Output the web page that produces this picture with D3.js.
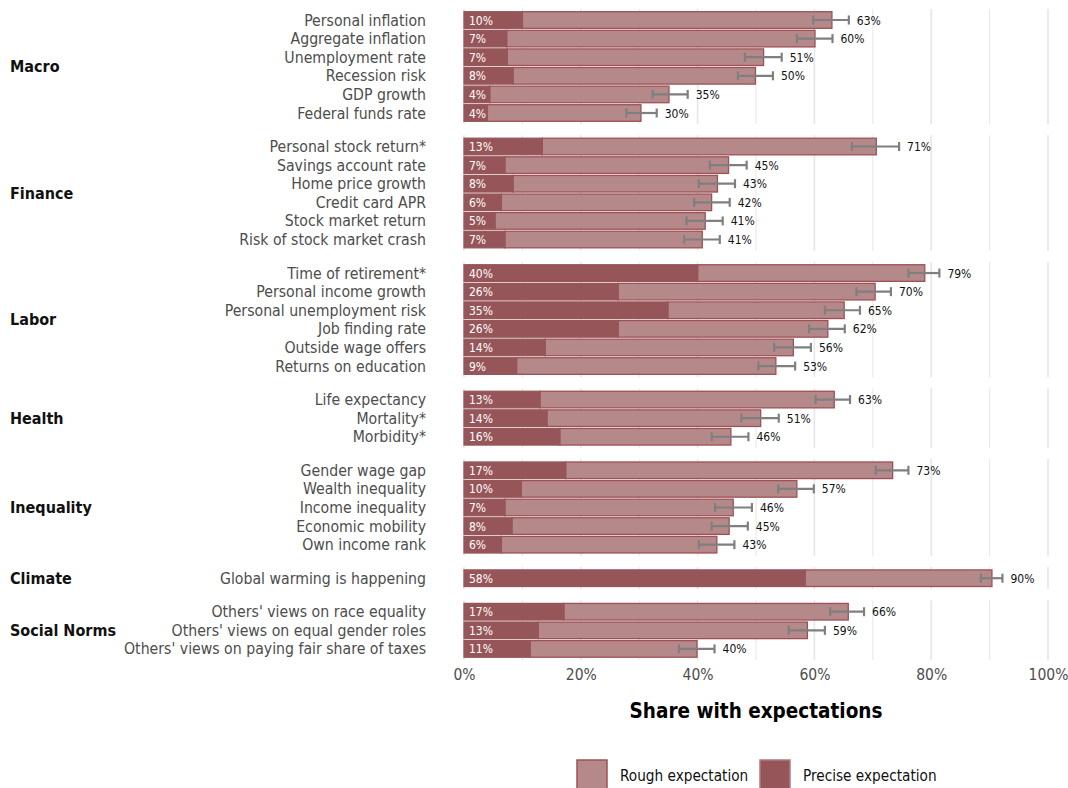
<!DOCTYPE html>
<html>
<head>
<meta charset="utf-8">
<script src="https://cdn.jsdelivr.net/npm/d3@7"></script>
<style>
  html, body { margin: 0; padding: 0; background: #ffffff; }
  svg { display: block; }
  text { font-family: "Liberation Sans Narrow", "DejaVu Sans Condensed", "Open Sans", sans-serif; }
</style>
</head>
<body>
<svg id="chart" width="1068" height="788"></svg>
<script>
// ---------------- DATA ----------------
const groups = ["Macro", "Finance", "Labor", "Health", "Inequality", "Climate", "Social Norms"];

const items = [
  "Personal inflation", "Aggregate inflation", "Unemployment rate", "Recession risk", "GDP growth", "Federal funds rate",
  "Personal stock return*", "Savings account rate", "Home price growth", "Credit card APR", "Stock market return", "Risk of stock market crash",
  "Time of retirement*", "Personal income growth", "Personal unemployment risk", "Job finding rate", "Outside wage offers", "Returns on education",
  "Life expectancy", "Mortality*", "Morbidity*",
  "Gender wage gap", "Wealth inequality", "Income inequality", "Economic mobility", "Own income rank",
  "Global warming is happening",
  "Others' views on race equality", "Others' views on equal gender roles", "Others' views on paying fair share of taxes"
];

const itemGroup = [
  "Macro", "Macro", "Macro", "Macro", "Macro", "Macro",
  "Finance", "Finance", "Finance", "Finance", "Finance", "Finance",
  "Labor", "Labor", "Labor", "Labor", "Labor", "Labor",
  "Health", "Health", "Health",
  "Inequality", "Inequality", "Inequality", "Inequality", "Inequality",
  "Climate",
  "Social Norms", "Social Norms", "Social Norms"
];

// share with precise expectations (%)
const precise = [
  10, 7.3, 7.4, 8.4, 4.4, 4,
  13.4, 7, 8.4, 6.4, 5.3, 7,
  40, 26.4, 34.9, 26.4, 13.9, 9,
  13, 14.2, 16.4,
  17.4, 9.8, 7, 8.2, 6.4,
  58.4,
  17.1, 12.7, 11.3
];

// share with any (rough + precise) expectations (%)
const total = [
  63, 60.1, 51.3, 49.9, 35.1, 30.3,
  70.6, 45.3, 43.4, 42.4, 41.3, 40.8,
  78.9, 70.4, 65.1, 62.3, 56.4, 53.4,
  63.4, 50.8, 45.7,
  73.4, 57, 46.1, 45.4, 43.3,
  90.4,
  65.8, 58.8, 39.9
];

// confidence interval bounds (%)
const ciLow = [
  59.8, 57.0, 48.1, 46.9, 32.3, 27.8,
  66.4, 42.1, 40.2, 39.4, 38.1, 37.7,
  76.1, 67.2, 61.8, 59.1, 53.1, 50.4,
  60.2, 47.5, 42.4,
  70.5, 53.8, 43.0, 42.4, 40.2,
  88.5,
  62.7, 55.6, 36.8
];
const ciHigh = [
  65.9, 63.1, 54.4, 52.9, 38.3, 33.0,
  74.5, 48.4, 46.4, 45.5, 44.3, 43.8,
  81.4, 73.1, 67.8, 65.2, 59.4, 56.7,
  66.1, 53.9, 48.7,
  76.1, 59.9, 49.3, 48.6, 46.3,
  92.2,
  68.5, 61.8, 42.9
];

const xTicks = [0, 20, 40, 60, 80, 100];
const xMinor = [10, 30, 50, 70, 90];
const legendLabels = ["Rough expectation", "Precise expectation"];
const axisTitle = "Share with expectations";

// ---------------- STYLE ----------------
const colPrecise = "#965659";
const colRough = "#b5898a";
const colStroke = "#9d5157";
const colErr = "#7f7f7f";
const colGrid = "#e6e6e6";

const svg = d3.select("#chart");

const x = d3.scaleLinear().domain([0, 100]).range([464, 1048]);

const rowStep = 18.6;
const panelGap = 11.2;
const firstTop = 20 - 0.6 * rowStep;

const rows = items.map((name, i) => ({
  name, group: itemGroup[i], precise: precise[i], total: total[i], lo: ciLow[i], hi: ciHigh[i]
}));

let curTop = firstTop;
const panels = groups.map(g => {
  const grpRows = rows.filter(r => r.group === g);
  const h = (grpRows.length - 1 + 1.2) * rowStep;
  const y = d3.scalePoint().domain(grpRows.map(r => r.name)).range([curTop, curTop + h]).padding(0.6);
  const p = { group: g, rows: grpRows, top: curTop, bottom: curTop + h, y };
  curTop += h + panelGap;
  return p;
});

const barH = 16.6;

panels.forEach(p => {
  const gP = svg.append("g");
  // grid
  gP.selectAll("line.minor").data(xMinor).join("line")
    .attr("x1", d => x(d)).attr("x2", d => x(d))
    .attr("y1", p.top).attr("y2", p.bottom)
    .attr("stroke", colGrid).attr("stroke-width", 1);
  gP.selectAll("line.major").data(xTicks).join("line")
    .attr("x1", d => x(d)).attr("x2", d => x(d))
    .attr("y1", p.top).attr("y2", p.bottom)
    .attr("stroke", colGrid).attr("stroke-width", 1.6);

  // group label
  gP.append("text")
    .attr("x", 10).attr("y", (p.top + p.bottom) / 2)
    .attr("dominant-baseline", "central")
    .attr("font-size", 16).attr("font-weight", "bold").attr("fill", "#111")
    .text(p.group);

  // item labels
  gP.selectAll("text.item").data(p.rows).join("text")
    .attr("x", 426).attr("y", d => p.y(d.name))
    .attr("text-anchor", "end").attr("dominant-baseline", "central")
    .attr("font-size", 15.7).attr("fill", "#4d4d4d")
    .text(d => d.name);

  const rg = gP.selectAll("g.row").data(p.rows).join("g");
  // rough portion
  rg.append("rect")
    .attr("x", d => x(d.precise)).attr("width", d => x(d.total) - x(d.precise))
    .attr("y", d => p.y(d.name) - barH / 2).attr("height", barH)
    .attr("fill", colRough).attr("stroke", colStroke).attr("stroke-width", 1.3);
  // precise portion
  rg.append("rect")
    .attr("x", x(0)).attr("width", d => x(d.precise) - x(0))
    .attr("y", d => p.y(d.name) - barH / 2).attr("height", barH)
    .attr("fill", colPrecise).attr("stroke", colPrecise).attr("stroke-width", 1.3);
  // error bars
  rg.append("line")
    .attr("x1", d => x(d.lo)).attr("x2", d => x(d.hi))
    .attr("y1", d => p.y(d.name)).attr("y2", d => p.y(d.name))
    .attr("stroke", colErr).attr("stroke-width", 2.2);
  rg.append("line")
    .attr("x1", d => x(d.lo)).attr("x2", d => x(d.lo))
    .attr("y1", d => p.y(d.name) - 4.5).attr("y2", d => p.y(d.name) + 4.5)
    .attr("stroke", colErr).attr("stroke-width", 2.2);
  rg.append("line")
    .attr("x1", d => x(d.hi)).attr("x2", d => x(d.hi))
    .attr("y1", d => p.y(d.name) - 4.5).attr("y2", d => p.y(d.name) + 4.5)
    .attr("stroke", colErr).attr("stroke-width", 2.2);
  // precise label
  rg.append("text")
    .attr("x", x(0) + 5).attr("y", d => p.y(d.name) + 0.5)
    .attr("dominant-baseline", "central")
    .attr("font-size", 12).attr("fill", "#ffffff")
    .text(d => Math.round(d.precise) + "%");
  // total label
  rg.append("text")
    .attr("x", d => x(d.hi) + 8).attr("y", d => p.y(d.name) + 0.5)
    .attr("dominant-baseline", "central")
    .attr("font-size", 12).attr("fill", "#111")
    .text(d => Math.round(d.total) + "%");
});

// x axis
const lastBottom = panels[panels.length - 1].bottom;
const axis = svg.append("g")
  .attr("transform", `translate(0,${lastBottom})`)
  .call(d3.axisBottom(x).tickValues(xTicks).tickFormat(d => d + "%").tickSize(0).tickPadding(9));
axis.select(".domain").remove();
axis.selectAll("text")
  .attr("font-family", '"Liberation Sans Narrow", "DejaVu Sans Condensed", sans-serif')
  .attr("font-size", 15.5).attr("fill", "#4d4d4d");

svg.append("text")
  .attr("x", (x(0) + x(100)) / 2).attr("y", 711)
  .attr("text-anchor", "middle").attr("dominant-baseline", "central")
  .attr("font-size", 20.5).attr("font-weight", "bold").attr("fill", "#000")
  .text(axisTitle);

// legend
const legendX = [577, 760];
const legendFill = [colRough, colPrecise];
const legendStroke = [colStroke, "#b07a7d"];
const lg = svg.append("g");
legendLabels.forEach((lab, i) => {
  lg.append("rect")
    .attr("x", legendX[i]).attr("y", 760).attr("width", 30).attr("height", 32)
    .attr("fill", legendFill[i]).attr("stroke", legendStroke[i]).attr("stroke-width", 1.5);
  lg.append("text")
    .attr("x", legendX[i] + 43).attr("y", 776)
    .attr("dominant-baseline", "central")
    .attr("font-size", 15.2).attr("fill", "#111")
    .text(lab);
});
</script>
</body>
</html>
